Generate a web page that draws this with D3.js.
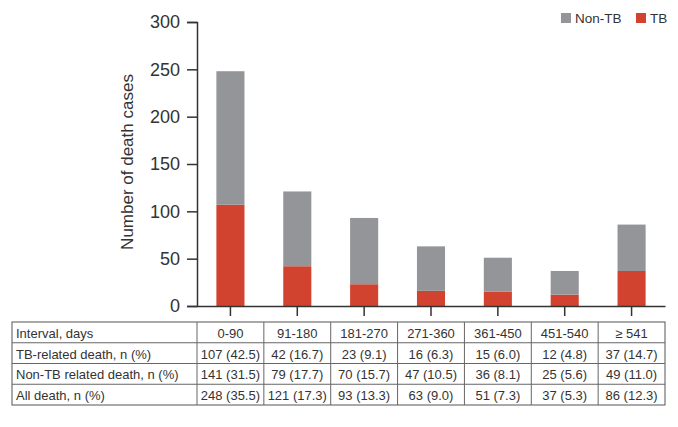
<!DOCTYPE html>
<html>
<head>
<meta charset="utf-8">
<script src="https://cdn.jsdelivr.net/npm/d3@7"></script>
<style>
  body { margin: 0; background: #fff; }
  svg { display: block; font-family: "Liberation Sans", Arial, sans-serif; }
</style>
</head>
<body>
<div id="wrapper"></div>
<script>
const intervals = ['0-90', '91-180', '181-270', '271-360', '361-450', '451-540', '≥ 541']
const tbDeaths = [107, 42, 23, 16, 15, 12, 37]
const tbPct = [42.5, 16.7, 9.1, 6.3, 6.0, 4.8, 14.7]
const nonTbDeaths = [141, 79, 70, 47, 36, 25, 49]
const nonTbPct = [31.5, 17.7, 15.7, 10.5, 8.1, 5.6, 11.0]
const allDeaths = [248, 121, 93, 63, 51, 37, 86]
const allPct = [35.5, 17.3, 13.3, 9.0, 7.3, 5.3, 12.3]
const yTicks = [0, 50, 100, 150, 200, 250, 300]
const rowLabels = ['Interval, days', 'TB-related death, n (%)', 'Non-TB related death, n (%)', 'All death, n (%)']

function drawChart() {
  const width = 678
  const height = 427
  const colors = { tb: '#d2432f', nonTb: '#939598', ink: '#333' }

  const svg = d3.select('#wrapper')
    .append('svg')
    .attr('width', width)
    .attr('height', height)

  const x = d3.scaleBand()
    .domain(intervals)
    .range([197, 665])
    .paddingInner(0.58)
    .paddingOuter(0.29)

  const y = d3.scaleLinear()
    .domain([0, 300])
    .range([306, 22])

  // stacked bars: TB at the bottom, Non-TB on top
  const rows = intervals.map((d, i) => ({ interval: d, tb: tbDeaths[i], nonTb: nonTbDeaths[i] }))
  const stack = d3.stack().keys(['tb', 'nonTb'])(rows)

  svg.append('g')
    .selectAll('g')
    .data(stack)
    .join('g')
    .attr('fill', d => colors[d.key])
    .selectAll('rect')
    .data(d => d)
    .join('rect')
    .attr('x', d => x(d.data.interval))
    .attr('y', d => y(d[1]))
    .attr('width', x.bandwidth())
    .attr('height', d => y(d[0]) - y(d[1]))

  // axes
  const yAxis = svg.append('g')
    .attr('transform', 'translate(197,0)')
    .call(d3.axisLeft(y).tickValues(yTicks).tickSize(10).tickPadding(7))
  yAxis.select('.domain').attr('stroke', colors.ink).attr('stroke-width', 1.5)
  yAxis.selectAll('.tick line').attr('stroke', colors.ink).attr('stroke-width', 1.5)
  yAxis.selectAll('.tick text')
    .attr('fill', colors.ink)
    .style('font-size', '18px')
    .style('font-family', '"Liberation Sans", Arial, sans-serif')

  const xAxis = svg.append('g')
    .attr('transform', `translate(0,${y(0)})`)
    .call(d3.axisBottom(x).tickSize(10).tickSizeOuter(0).tickFormat(''))
  xAxis.select('.domain').attr('stroke', colors.ink).attr('stroke-width', 1.5)
  xAxis.selectAll('.tick line').attr('stroke', colors.ink).attr('stroke-width', 1.5)

  svg.append('text')
    .attr('transform', 'translate(127,162) rotate(-90)')
    .attr('text-anchor', 'middle')
    .attr('dominant-baseline', 'central')
    .attr('fill', colors.ink)
    .style('font-size', '17px')
    .text('Number of death cases')

  // legend
  const legendItems = [
    { label: 'Non-TB', key: 'nonTb', x: 561 },
    { label: 'TB', key: 'tb', x: 636 }
  ]
  const legend = svg.append('g')
    .selectAll('g')
    .data(legendItems)
    .join('g')
    .attr('transform', d => `translate(${d.x},13)`)
  legend.append('rect')
    .attr('width', 10)
    .attr('height', 10)
    .attr('fill', d => colors[d.key])
  legend.append('text')
    .attr('x', 14)
    .attr('y', 10)
    .attr('fill', colors.ink)
    .style('font-size', '13.5px')
    .text(d => d.label)

  // table under the chart
  const rowY = d3.scaleBand().domain(d3.range(4)).range([322, 405])
  const tableLeft = 12
  const cellStart = d => x(d) - (x.step() - x.bandwidth()) / 2
  const fmt = (n, p) => `${n} (${p.toFixed(1)})`
  const cells = [
    intervals,
    tbDeaths.map((n, i) => fmt(n, tbPct[i])),
    nonTbDeaths.map((n, i) => fmt(n, nonTbPct[i])),
    allDeaths.map((n, i) => fmt(n, allPct[i]))
  ]

  const table = svg.append('g')

  table.append('rect')
    .attr('x', tableLeft)
    .attr('y', rowY.range()[0])
    .attr('width', x.range()[1] - tableLeft)
    .attr('height', rowY.range()[1] - rowY.range()[0])
    .attr('fill', 'none')
    .attr('stroke', '#555')
    .attr('stroke-width', 1)

  table.selectAll('.hline')
    .data(d3.range(1, 4))
    .join('line')
    .attr('x1', tableLeft)
    .attr('x2', x.range()[1])
    .attr('y1', d => rowY(d))
    .attr('y2', d => rowY(d))
    .attr('stroke', '#666')

  table.selectAll('.vline')
    .data(intervals)
    .join('line')
    .attr('x1', cellStart)
    .attr('x2', cellStart)
    .attr('y1', rowY.range()[0])
    .attr('y2', rowY.range()[1])
    .attr('stroke', '#666')

  table.selectAll('.rowlabel')
    .data(rowLabels)
    .join('text')
    .attr('x', tableLeft + 4)
    .attr('y', (d, i) => rowY(i) + rowY.bandwidth() / 2 + 1)
    .attr('dominant-baseline', 'central')
    .attr('fill', colors.ink)
    .style('font-size', '13px')
    .text(d => d)

  cells.forEach((row, r) => {
    table.append('g')
      .selectAll('text')
      .data(row)
      .join('text')
      .attr('x', (d, i) => x(intervals[i]) + x.bandwidth() / 2)
      .attr('y', rowY(r) + rowY.bandwidth() / 2 + 1)
      .attr('text-anchor', 'middle')
      .attr('dominant-baseline', 'central')
      .attr('fill', colors.ink)
      .style('font-size', '13px')
      .text(d => d)
  })
}

drawChart()
</script>
</body>
</html>
